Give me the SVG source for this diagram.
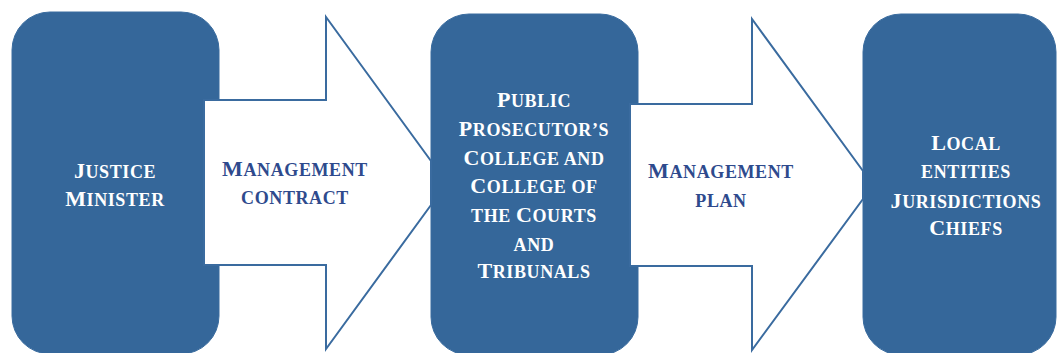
<svg xmlns="http://www.w3.org/2000/svg" width="1057" height="353" viewBox="0 0 1057 353">
<style>
.box{fill:#35679a;stroke:#3a6c9f;stroke-width:1}
.arrow{fill:#ffffff;stroke:#3a6b9f;stroke-width:2;stroke-linejoin:miter}
.t{font-family:"Liberation Serif","Times New Roman",serif;font-weight:bold;font-size:22px;letter-spacing:0.6px;text-anchor:middle}
.s{font-size:18px}
.w{fill:#ffffff}
.b{fill:#2e4a8d}
</style>
<rect width="1057" height="353" fill="#ffffff"/>
<g id="node-justice-minister">
<rect class="box" x="12" y="12" width="207" height="342" rx="38" ry="38"/>
<text class="t w" x="115" y="178">J<tspan class="s">USTICE</tspan></text>
<text class="t w" x="115" y="206">M<tspan class="s">INISTER</tspan></text>
</g>
<g id="node-colleges">
<rect class="box" x="431" y="14" width="207" height="341" rx="38" ry="38"/>
<text class="t w" x="534" y="107">P<tspan class="s">UBLIC</tspan></text>
<text class="t w" x="534" y="136">P<tspan class="s">ROSECUTOR’S</tspan></text>
<text class="t w" x="534" y="165">C<tspan class="s">OLLEGE AND</tspan></text>
<text class="t w" x="534" y="193">C<tspan class="s">OLLEGE OF</tspan></text>
<text class="t w" x="534" y="222"><tspan class="s">THE </tspan>C<tspan class="s">OURTS</tspan></text>
<text class="t w s" x="534" y="251">AND</text>
<text class="t w" x="534" y="278">T<tspan class="s">RIBUNALS</tspan></text>
</g>
<g id="node-local-entities">
<rect class="box" x="863" y="14" width="193" height="341" rx="38" ry="38"/>
<text class="t w" x="966" y="150">L<tspan class="s">OCAL</tspan></text>
<text class="t w s" x="966" y="178">ENTITIES</text>
<text class="t w" x="966" y="208">J<tspan class="s">URISDICTIONS</tspan></text>
<text class="t w" x="966" y="235">C<tspan class="s">HIEFS</tspan></text>
</g>
<g id="connectors">
<g id="arrow-management-contract">
<polygon class="arrow" points="204,100 326,100 326,17 431,161 431,205 326,349 326,265 204,265"/>
<text class="t b" x="295" y="176">M<tspan class="s">ANAGEMENT</tspan></text>
<text class="t b s" x="295" y="204">CONTRACT</text>
</g>
<g id="arrow-management-plan">
<polygon class="arrow" points="630,104 752,104 752,19 863,171 863,199 752,350 752,266 630,266"/>
<text class="t b" x="721" y="178">M<tspan class="s">ANAGEMENT</tspan></text>
<text class="t b s" x="721" y="207">PLAN</text>
</g>
</g>
</svg>
